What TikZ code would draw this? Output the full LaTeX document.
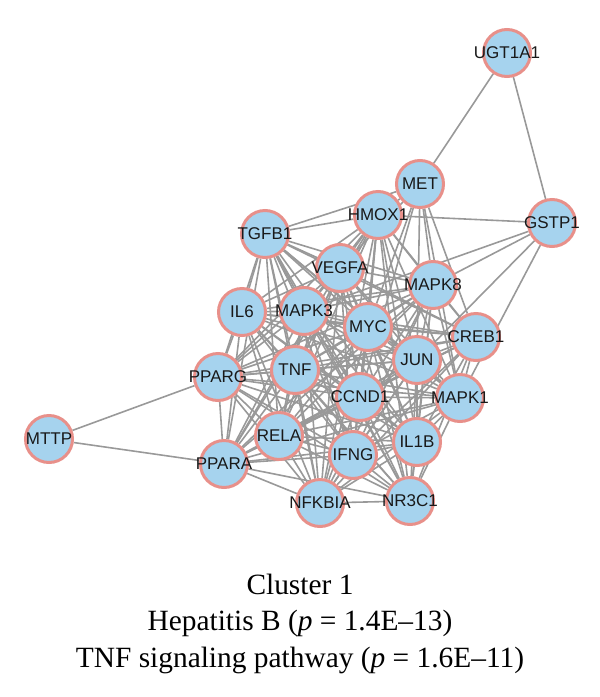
\documentclass[tikz,border=0pt]{standalone}
\usepackage{fontspec}
\setmainfont{Liberation Serif}
\newfontfamily\genefont{Liberation Sans}
\usetikzlibrary{backgrounds}
\definecolor{nodefill}{HTML}{A6D3EE}
\definecolor{nodeedge}{HTML}{E8908A}
\definecolor{edgegray}{HTML}{999999}
\newcommand\genelbl[1]{\makebox[0pt]{#1}}
\begin{document}
\begin{tikzpicture}[x=1pt,y=-1pt,
  gene/.style={circle,draw=nodeedge,line width=3pt,fill=nodefill,minimum size=47pt,inner sep=0pt,
    font=\genefont\fontsize{17}{17}\selectfont,text=black!90},
  link/.style={draw=edgegray,line width=1.6pt},
  captxt/.style={font=\fontsize{29.4}{30}\selectfont,anchor=base,inner sep=0pt}]
\useasboundingbox (0,0) rectangle (600,697);
\node[gene] (UGT1A1) at (507,53)  {\genelbl{UGT1A1}};
\node[gene] (MET)    at (420,184) {\genelbl{MET}};
\node[gene] (GSTP1)  at (552,223) {\genelbl{GSTP1}};
\node[gene] (HMOX1)  at (378,215) {\genelbl{HMOX1}};
\node[gene] (TGFB1)  at (265,234) {\genelbl{TGFB1}};
\node[gene] (VEGFA)  at (340,268) {\genelbl{VEGFA}};
\node[gene] (MAPK8)  at (433,285) {\genelbl{MAPK8}};
\node[gene] (IL6)    at (242,312) {\genelbl{IL6}};
\node[gene] (MAPK3)  at (304,311) {\genelbl{MAPK3}};
\node[gene] (MYC)    at (368,327) {\genelbl{MYC}};
\node[gene] (CREB1)  at (476,337) {\genelbl{CREB1}};
\node[gene] (JUN)    at (417,360) {\genelbl{JUN}};
\node[gene] (TNF)    at (295,370) {\genelbl{TNF}};
\node[gene] (PPARG)  at (218,377) {\genelbl{PPARG}};
\node[gene] (CCND1)  at (360,397) {\genelbl{CCND1}};
\node[gene] (MAPK1)  at (460,398) {\genelbl{MAPK1}};
\node[gene] (RELA)   at (279,436) {\genelbl{RELA}};
\node[gene] (IL1B)   at (417,442) {\genelbl{IL1B}};
\node[gene] (IFNG)   at (353,455) {\genelbl{IFNG}};
\node[gene] (PPARA)  at (224,464) {\genelbl{PPARA}};
\node[gene] (MTTP)   at (49,439)  {\genelbl{MTTP}};
\node[gene] (NFKBIA) at (320,503) {\genelbl{NFKBIA}};
\node[gene] (NR3C1)  at (410,501) {\genelbl{NR3C1}};
\begin{scope}[on background layer]
  \def\corelist{TGFB1,HMOX1,VEGFA,MAPK8,IL6,MAPK3,MYC,CREB1,JUN,TNF,PPARG,CCND1,MAPK1,RELA,IL1B,IFNG,PPARA,NFKBIA,NR3C1}
  \foreach \a [count=\i] in \corelist {
    \foreach \b [count=\j] in \corelist {
      \ifnum\j>\i \draw[link] (\a) -- (\b); \fi
    }
  }
  \foreach \a/\b in {UGT1A1/MET,UGT1A1/GSTP1,GSTP1/HMOX1,GSTP1/MAPK8,GSTP1/MAPK3,GSTP1/JUN,GSTP1/MAPK1,
      MET/HMOX1,MET/TGFB1,MET/MAPK8,MET/JUN,MET/MAPK1,MET/MYC,MET/VEGFA,MET/CCND1,MET/CREB1,
      MTTP/PPARG,MTTP/PPARA}
    \draw[link] (\a) -- (\b);
\end{scope}
\node[captxt] (cap1) at (300,594) {Cluster 1};
\node[captxt] (cap2) at (300,630) {Hepatitis B (\textit{p} = 1.4E–13)};
\node[captxt] (cap3) at (300,667) {TNF signaling pathway (\textit{p} = 1.6E–11)};
\end{tikzpicture}
\end{document}
